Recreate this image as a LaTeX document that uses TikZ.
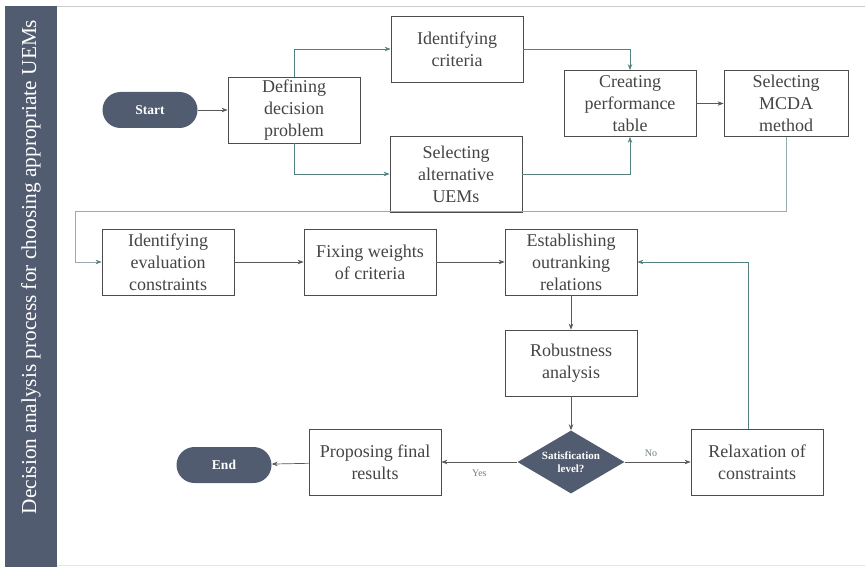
\documentclass[tikz,border=0pt]{standalone}
\usepackage{fontspec}
\setmainfont{Liberation Serif}
\usetikzlibrary{shapes.geometric, arrows.meta}
\definecolor{slate}{RGB}{82,92,112}
\definecolor{tealline}{RGB}{84,128,128}
\definecolor{paleline}{RGB}{150,172,176}
\definecolor{boxtext}{RGB}{68,68,68}
\definecolor{tagtext}{RGB}{110,128,128}

\begin{document}
\begin{tikzpicture}[x = 1pt, y = -1pt,
    box/.style = {draw = black!70, text = boxtext, align = center, line width = 0.8pt,
      font = \fontsize{18}{22}\selectfont, minimum width = 132pt, minimum height = 66pt, inner sep = 1pt},
    term/.style = {rounded corners = 18pt, fill = slate, text = white,
      font = \bfseries\fontsize{13.5}{15}\selectfont, minimum width = 95pt, minimum height = 36pt},
    decision/.style = {shape = diamond, aspect = 1.7, fill = slate, text = white, align = center,
      font = \bfseries\fontsize{11}{13}\selectfont, minimum width = 107pt, minimum height = 63pt, inner sep = -1pt},
    flow/.style = {draw = black!65, line width = 0.7pt, -{Stealth[length = 6pt, width = 4.5pt]}},
    tealflow/.style = {flow, draw = tealline},
    tag/.style = {text = tagtext, font = \fontsize{10}{12}\selectfont}]
 \useasboundingbox (0,0) rectangle (865,567);
 \draw[black!20] (57,6) -- (865,6);
 \draw[black!10] (57,565) -- (865,565);
 \fill[slate] (5,6) rectangle (57,567);
 \node[rotate = 90, text = white, font = \fontsize{21.3}{25}\selectfont] (title) at (31,267)
   {Decision analysis process for choosing appropriate UEMs};

 \node[term] (start) at (150,110) {Start};
 \node[box] (def) at (294,110) {Defining\\ decision\\ problem};
 \node[box] (crit) at (457,49) {Identifying\\ criteria};
 \node[box, minimum height = 76pt] (alt) at (456,174) {Selecting\\ alternative\\ UEMs};
 \node[box] (perf) at (630,103.5) {Creating\\ performance\\ table};
 \node[box, minimum width = 124pt] (mcda) at (786,103.5) {Selecting\\ MCDA\\ method};

 \node[box] (eval) at (168,262) {Identifying\\ evaluation\\ constraints};
 \node[box] (weights) at (370,262) {Fixing weights\\ of criteria};
 \node[box] (estab) at (571,262) {Establishing\\ outranking\\ relations};
 \node[box] (robust) at (571,363) {Robustness\\ analysis};
 \node[decision] (level) at (571,462) {Satisfication\\ level?};
 \node[box] (relax) at (757,462) {Relaxation of\\ constraints};
 \node[box] (final) at (375,462) {Proposing final\\ results};
 \node[term] (end) at (224,465) {End};
 \coordinate (wrap) at (75,211);

 \draw[flow] (start) -- (def);
 \draw[tealflow] (def.north) |- (crit);
 \draw[tealflow] (def.south) |- (alt);
 \draw[tealflow] (crit) -| (perf);
 \draw[tealflow] (alt) -| (perf);
 \draw[flow] (perf) -- (mcda);
 \draw[flow, draw = paleline, -{Stealth[length = 6pt, width = 4.5pt, color = tealline]}]
   (mcda) |- (wrap) |- (eval);
 \draw[flow] (eval) -- (weights);
 \draw[flow] (weights) -- (estab);
 \draw[flow] (estab) -- (robust);
 \draw[flow] (robust) -- (level);
 \draw[flow] (level) -- node[tag, pos = 0.4, above = 2pt] {No} (relax);
 \draw[flow] (level) -- node[tag, below = 4pt] {Yes} (final);
 \draw[flow] (final) -- (end);
 \draw[tealflow] ([xshift = -9pt]relax.north) |- (estab);
\end{tikzpicture}
\end{document}
